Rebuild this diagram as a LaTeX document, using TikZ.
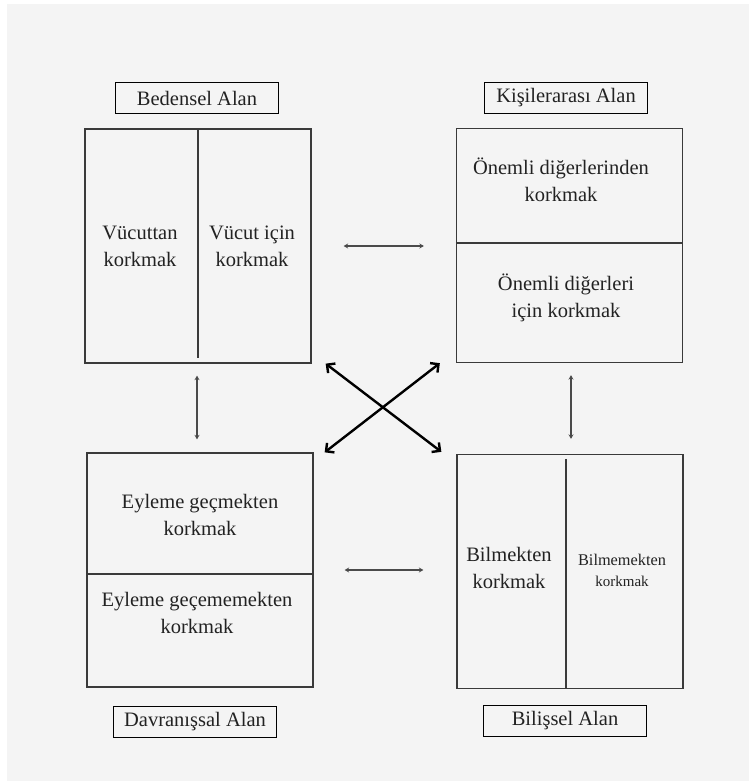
\documentclass[tikz,border=0pt]{standalone}
\usepackage{fontspec}
\setmainfont{Liberation Serif}
\usetikzlibrary{arrows.meta,positioning,calc}
\definecolor{panel}{HTML}{F4F4F4}
\definecolor{ink}{HTML}{222222}
\definecolor{frame}{HTML}{3A3A3A}
\definecolor{link}{HTML}{4A4A4A}
\begin{document}
\begin{tikzpicture}[x=1pt,y=-1pt,
  every node/.style={text=ink,font=\fontsize{20.5}{27}\selectfont,align=center,inner sep=0pt},
  areabox/.style={draw=frame,line width=1.3pt,minimum width=226pt,minimum height=234pt},
  areatag/.style={draw=black,line width=1.3pt,minimum width=163pt,minimum height=31pt},
  split/.style={draw=frame,line width=1.3pt},
  pair/.style={draw=link,line width=1.9pt,{Stealth[length=4.5pt,width=5pt]}-{Stealth[length=4.5pt,width=5pt]}},
  cross/.style={draw=black,line width=2.4pt,{Straight Barb[length=6pt,width=12pt]}-{Straight Barb[length=6pt,width=12pt]}}]
  \useasboundingbox (0,0) rectangle (749,781);
  \fill[panel] (7,4) rectangle (749,781);

  % the four areas
  \node[areabox] (tl) at (198,246) {};
  \node[areabox] (tr) at (569.5,245.5) {};
  \node[areabox] (bl) at (200,570) {};
  \node[areabox] (br) at (570,571.5) {};

  % area names
  \node[areatag] (tlname) at (197,98) {Bedensel Alan};
  \node[areatag] (trname) at (566,98) {Kişilerarası Alan};
  \node[areatag] (blname) at (195,722) {Davranışsal Alan};
  \node[areatag] (brname) at (565,721) {Bilişsel Alan};

  % inner splits
  \draw[split] (tl.north) -- ([yshift=6pt]tl.south);
  \draw[split] ([yshift=2.5pt]tr.west) -- ([yshift=2.5pt]tr.east);
  \draw[split] ([yshift=-4pt]bl.west) -- ([yshift=-4pt]bl.east);
  \draw[split] ([xshift=-4pt,yshift=-5pt]br.north) -- ([xshift=-4pt]br.south);

  % texts
  \node (t1) at (140,246) {Vücuttan\\korkmak};
  \node (t2) at (252,246) {Vücut için\\korkmak};
  \node (t3) at (561,180) {Önemli diğerlerinden\\korkmak};
  \node (t4) at (566,298) {Önemli diğerleri\\için korkmak};
  \node (t5) at (200,515) {Eyleme geçmekten\\korkmak};
  \node (t6) at (197,613) {Eyleme geçememekten\\korkmak};
  \node (t7) at (509,568) {Bilmekten\\korkmak};
  \node[font=\fontsize{16.3}{21}\selectfont] (t8) at (622,570) {Bilmemekten\\{\fontsize{15}{18}\selectfont korkmak}};

  % links between areas
  \draw[pair,shorten <=32pt,shorten >=32pt] (tl.east) -- (tl.east -| tr.west);
  \draw[pair,shorten <=31pt,shorten >=33pt] (bl.east) -- (bl.east -| br.west);
  \draw[pair,shorten <=12pt,shorten >=13pt] ([xshift=-1pt]tl.south) -- ([xshift=-1pt]tl.south |- bl.north);
  \draw[pair,shorten <=12pt,shorten >=15pt] ([xshift=1.5pt]tr.south) -- ([xshift=1.5pt]tr.south |- br.north);
  \draw[cross] ([xshift=14pt]tl.south east) -- ([xshift=-15pt,yshift=2pt]br.north west);
  \draw[cross] ([xshift=-16pt]tr.south west) -- ([xshift=11pt]bl.north east);
\end{tikzpicture}
\end{document}
